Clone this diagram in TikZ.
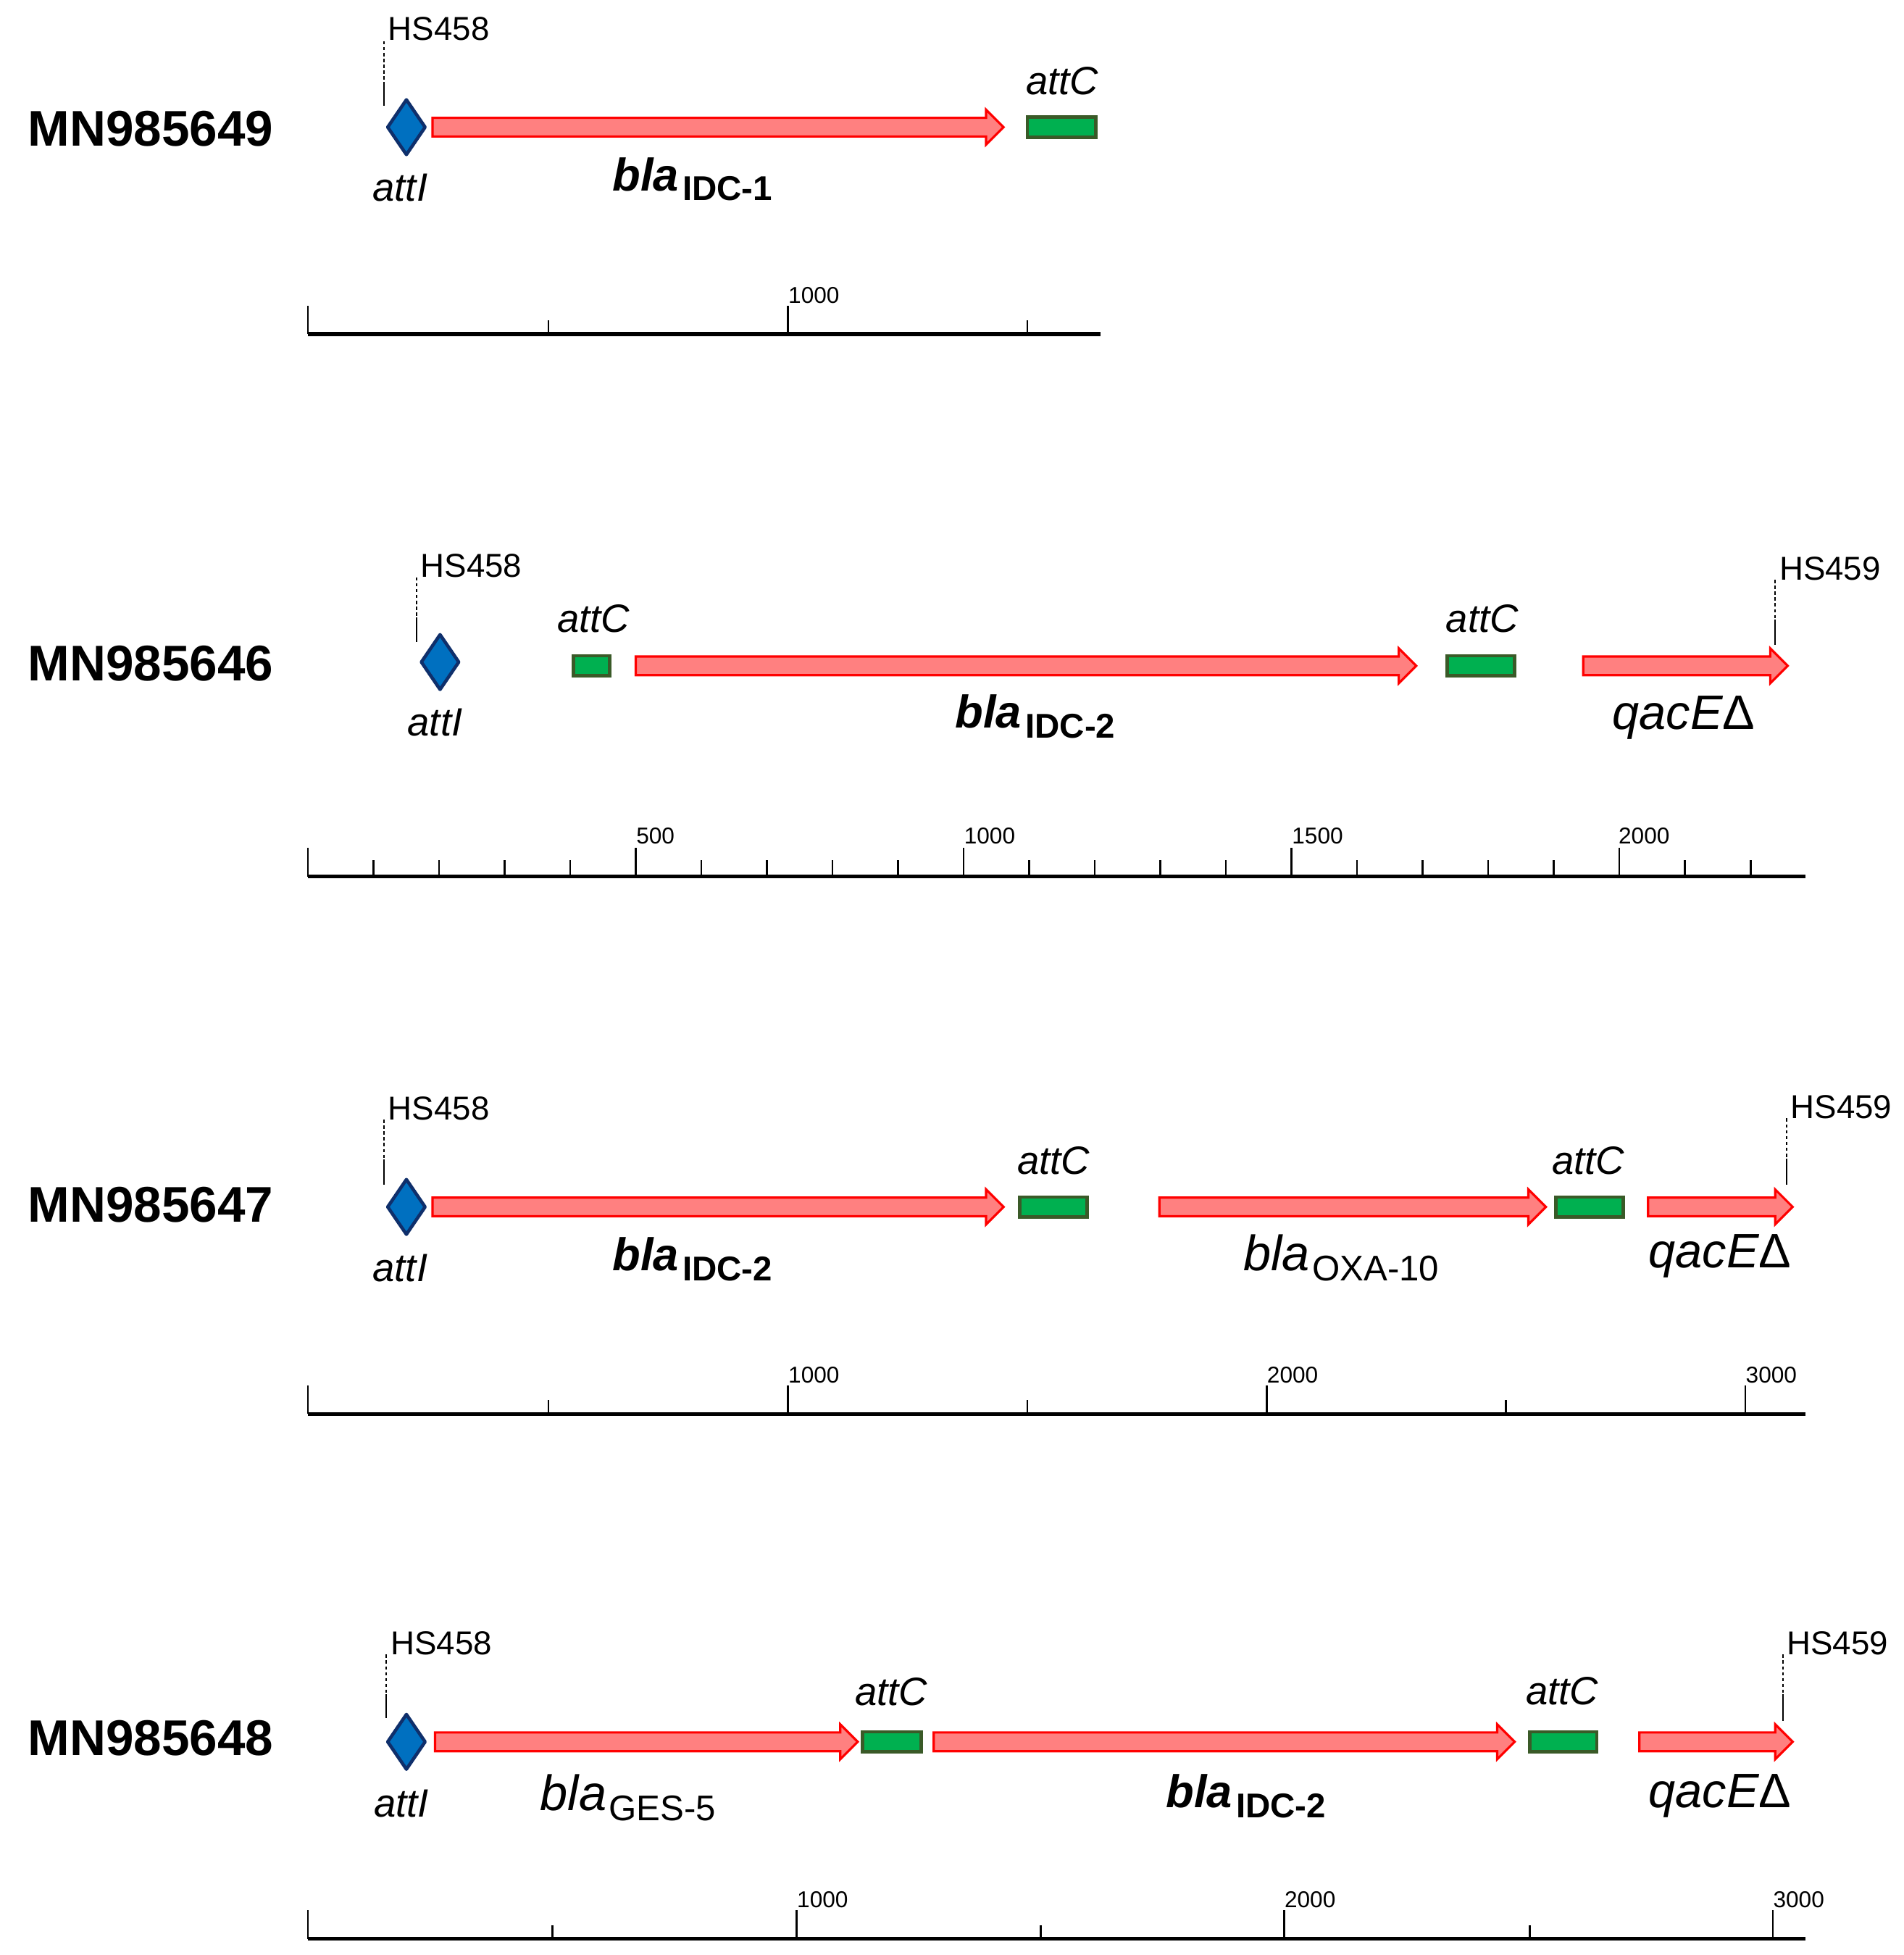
\documentclass[tikz,border=0pt]{standalone}
\usepackage{fontspec}
\setmainfont{Liberation Sans}
\definecolor{genefill}{HTML}{FF8080}
\definecolor{geneline}{HTML}{FF0000}
\definecolor{attcfill}{HTML}{00B050}
\definecolor{attcline}{HTML}{3A5A28}
\definecolor{attifill}{HTML}{0070C0}
\definecolor{attiline}{HTML}{0F2F6B}
\tikzset{
  genestyle/.style={fill=genefill, draw=geneline, line width=0.9pt, line join=miter},
  attcstyle/.style={fill=attcfill, draw=attcline, line width=1.3pt},
  attistyle/.style={fill=attifill, draw=attiline, line width=1.3pt, line join=round},
  rowlab/.style={inner sep=0pt, anchor=base west, font=\fontsize{19.7}{24}\selectfont\bfseries},
  hslab/.style={inner sep=0pt, anchor=base west, font=\fontsize{13}{15}\selectfont},
  sitelab/.style={inner sep=0pt, anchor=base, font=\fontsize{15.5}{18}\selectfont\itshape},
  genelab/.style={inner sep=0pt, anchor=base west},
  numlab/.style={inner sep=0pt, anchor=base west, font=\fontsize{9}{11}\selectfont},
  barline/.style={line width=1.5pt},
  tickline/.style={line width=0.75pt},
  hsdash/.style={line width=0.6pt, dash pattern=on 1.3pt off 1pt},
  hssolid/.style={line width=0.6pt}
}
% gene arrow: x1, x2, y
\newcommand\genearrow[3]{%
  \draw[genestyle] (#1,#3-7.5) -- (#2-14,#3-7.5) -- (#2-14,#3-14) -- (#2,#3)
    -- (#2-14,#3+14) -- (#2-14,#3+7.5) -- (#1,#3+7.5) -- cycle;}
% attC box: x1, x2, y
\newcommand\attcbox[3]{\draw[attcstyle] (#1,#3-8) rectangle (#2,#3+8);}
% attI diamond: cx, cy
\newcommand\attidiamond[2]{%
  \draw[attistyle] (#1-15,#2) -- (#1,#2-22) -- (#1+15,#2) -- (#1,#2+22) -- cycle;}
% HS marker line: x, top, mid, bottom
\newcommand\hsline[4]{%
  \draw[hsdash] (#1,#2) -- (#1,#3);
  \draw[hssolid] (#1,#3) -- (#1,#4);}
\newcommand\boldgene[1]{{\fontsize{18}{20}\selectfont\bfseries\itshape bla}\kern1.5pt\raisebox{-3.9pt}{\fontsize{13.5}{15}\selectfont\bfseries #1}}
\newcommand\reggene[1]{{\fontsize{19.5}{22}\selectfont\itshape bla}\kern1pt\raisebox{-3.9pt}{\fontsize{14}{16}\selectfont #1}}
\newcommand\qacE{{\fontsize{19}{22}\selectfont\itshape qacE}{\fontsize{19}{22}\selectfont Δ}}
\begin{document}
\begin{tikzpicture}[x=0.1721mm, y=-0.1721mm]
\useasboundingbox (0,0) rectangle (1527,1568);
\fill[white] (0,0) rectangle (1527,1568);

% ================= Row 1: MN985649 =================
\node[rowlab] (r1) at (22,117) {MN985649};
\hsline{308}{33}{66}{85}
\node[hslab] (r1hs) at (311,32) {HS458};
\attidiamond{326}{102}
\node[sitelab] (r1atti) at (321,161) {attI};
\genearrow{347}{805}{102}
\attcbox{824}{879}{102}
\node[sitelab] (r1attc) at (852,76) {attC};
\node[genelab] (r1g1) at (491,153) {\boldgene{IDC-1}};
% scale
\draw[barline] (247,268) -- (883,268);
\foreach \x in {247,632} \draw[tickline] (\x,268) -- (\x,245);
\foreach \x in {440,824} \draw[tickline] (\x,268) -- (\x,257);
\node[numlab] (r1n1) at (632,243) {1000};

% ================= Row 2: MN985646 =================
\node[rowlab] (r2) at (22,546) {MN985646};
\hsline{334}{463}{495}{515}
\node[hslab] (r2hs) at (337,463) {HS458};
\attidiamond{353}{531}
\node[sitelab] (r2atti) at (349,590) {attI};
\attcbox{460}{489}{534}
\node[sitelab] (r2attc1) at (476,507) {attC};
\genearrow{510}{1136}{534}
\attcbox{1161}{1215}{534}
\node[sitelab] (r2attc2) at (1189,507) {attC};
\genearrow{1270}{1434}{534}
\hsline{1424}{465}{497}{517}
\node[hslab] (r2hs2) at (1427,465) {HS459};
\node[genelab] (r2g1) at (766,584) {\boldgene{IDC-2}};
\node[genelab] (r2q) at (1293,585) {\qacE};
% scale
\draw[barline] (247,703) -- (1448,703);
\foreach \k in {0,...,22} {
  \pgfmathsetmacro\xx{247+52.6*\k}
  \pgfmathtruncatemacro\mm{mod(\k,5)}
  \ifnum\mm=0 \draw[tickline] (\xx,703) -- (\xx,680);
  \else \draw[tickline] (\xx,703) -- (\xx,690); \fi
}
\node[numlab] (r2n1) at (510,677) {500};
\node[numlab] (r2n2) at (773,677) {1000};
\node[numlab] (r2n3) at (1036,677) {1500};
\node[numlab] (r2n4) at (1298,677) {2000};

% ================= Row 3: MN985647 =================
\node[rowlab] (r3) at (22,980) {MN985647};
\hsline{308}{898}{930}{950}
\node[hslab] (r3hs) at (311,898) {HS458};
\attidiamond{326}{968}
\node[sitelab] (r3atti) at (321,1028) {attI};
\genearrow{347}{805}{968}
\attcbox{818}{872}{968}
\node[sitelab] (r3attc1) at (845,942) {attC};
\genearrow{930}{1240}{968}
\attcbox{1248}{1302}{968}
\node[sitelab] (r3attc2) at (1274,942) {attC};
\genearrow{1322}{1438}{968}
\hsline{1433}{897}{929}{950}
\node[hslab] (r3hs2) at (1436,897) {HS459};
\node[genelab] (r3g1) at (491,1019) {\boldgene{IDC-2}};
\node[genelab] (r3g2) at (997,1019) {\reggene{OXA-10}};
\node[genelab] (r3q) at (1322,1017) {\qacE};
% scale
\draw[barline] (247,1134) -- (1448,1134);
\foreach \x in {247,632,1016,1400} \draw[tickline] (\x,1134) -- (\x,1111);
\foreach \x in {440,824,1208} \draw[tickline] (\x,1134) -- (\x,1123);
\node[numlab] (r3n1) at (632,1109) {1000};
\node[numlab] (r3n2) at (1016,1109) {2000};
\node[numlab] (r3n3) at (1400,1109) {3000};

% ================= Row 4: MN985648 =================
\node[rowlab] (r4) at (22,1408) {MN985648};
\hsline{310}{1327}{1359}{1378}
\node[hslab] (r4hs) at (313,1327) {HS458};
\attidiamond{326}{1397}
\node[sitelab] (r4atti) at (322,1457) {attI};
\genearrow{349}{688}{1397}
\attcbox{692}{739}{1397}
\node[sitelab] (r4attc1) at (715,1368) {attC};
\genearrow{749}{1215}{1397}
\attcbox{1227}{1281}{1397}
\node[sitelab] (r4attc2) at (1253,1367) {attC};
\genearrow{1315}{1438}{1397}
\hsline{1430}{1327}{1359}{1380}
\node[hslab] (r4hs2) at (1433,1327) {HS459};
\node[genelab] (r4g1) at (433,1452) {\reggene{GES-5}};
\node[genelab] (r4g2) at (935,1450) {\boldgene{IDC-2}};
\node[genelab] (r4q) at (1322,1450) {\qacE};
% scale
\draw[barline] (247,1555) -- (1448,1555);
\foreach \x in {247,639,1030,1422} \draw[tickline] (\x,1555) -- (\x,1532);
\foreach \x in {443,835,1227} \draw[tickline] (\x,1555) -- (\x,1544);
\node[numlab] (r4n1) at (639,1530) {1000};
\node[numlab] (r4n2) at (1030,1530) {2000};
\node[numlab] (r4n3) at (1422,1530) {3000};
\end{tikzpicture}
\end{document}
